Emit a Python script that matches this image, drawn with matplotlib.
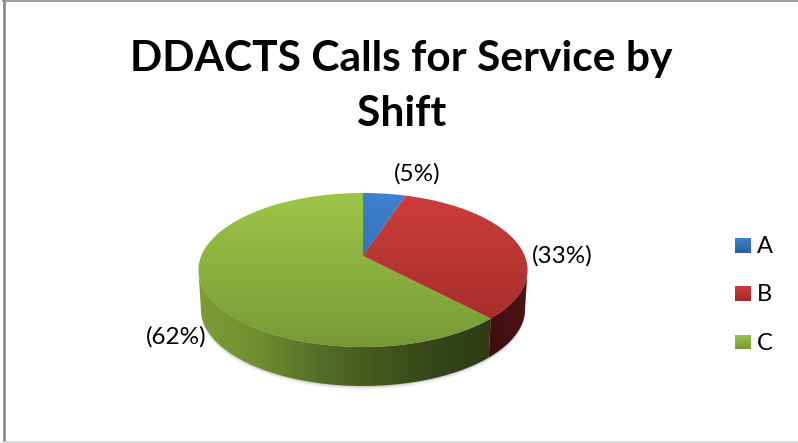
import matplotlib
matplotlib.use("Agg")
import matplotlib.pyplot as plt
from matplotlib.colors import LinearSegmentedColormap
from matplotlib.patches import Polygon, Rectangle
import numpy as np

plt.rcParams["font.family"] = ["Lato", "DejaVu Sans"]

shifts = ["A", "B", "C"]
shares = [5, 33, 62]
top_shades = [("#3f82cf", "#2a5c9a"), ("#cd3d3a", "#9e2b29"), ("#9dc648", "#779a36")]
side_shades = [
    ["#2a5c9a", "#1c3f6b"],
    ["#3a0e0e", "#4f1212"],
    ["#7b9c38", "#70902f", "#55702a", "#45591c", "#35451a", "#2e3b13"],
]
side_spans = [(363, 410), (480, 527), (198, 492)]
label_pos = [(417.5, 174), (562, 256), (176.5, 337)]
legend_y = [245.5, 293.5, 342]

W, H = 798, 443
CX, CY = 363, 256
A, B, K = 161.8, 74.45, 0.1818
DEPTH = 39
XSCALE = 0.985


def project(theta, drop=0.0, xscale=1.0):
    # theta runs clockwise from twelve o'clock; the back of the disc is foreshortened
    u, v = np.sin(theta), np.cos(theta)
    w = 1 + K * v
    return CX + xscale * A * u / w, CY - B * v / w + drop


def rim(t0, t1, **kw):
    t = np.linspace(t0, t1, 160)
    x, y = project(t, **kw)
    return np.column_stack([x, y])


def fill_gradient(ax, path_patch, colors, horizontal=False, extent=None):
    cmap = LinearSegmentedColormap.from_list("shade", colors)
    ramp = np.linspace(0, 1, 256)
    ramp = ramp.reshape(1, -1) if horizontal else ramp.reshape(-1, 1)
    im = ax.imshow(ramp, cmap=cmap, extent=extent, aspect="auto", interpolation="bilinear", zorder=path_patch.get_zorder())
    ax.add_patch(path_patch)
    path_patch.set_visible(False)
    im.set_clip_path(path_patch.get_path(), path_patch.get_transform())


fig = plt.figure(figsize=(W / 100, H / 100), dpi=100, facecolor="white")
ax = fig.add_axes([0, 0, 1, 1])
ax.axis("off")

# soft shadow under the disc
full = rim(0, 2 * np.pi, drop=DEPTH, xscale=XSCALE)
for i, alpha in zip([3.5, 2.5, 1.5, 0.7], [0.05, 0.07, 0.09, 0.12]):
    ax.add_patch(Polygon(full + [0, i], closed=True, fc="#555555", ec="none", alpha=alpha, zorder=1))

edges = 2 * np.pi * np.cumsum([0] + shares) / sum(shares)

# only the front of the rim is visible, between the two silhouette angles
sil_right = np.arccos(-K)
sil_left = 2 * np.pi - sil_right
for k in range(len(shifts)):
    t0, t1 = max(edges[k], sil_right), min(edges[k + 1], sil_left)
    if t1 <= t0:
        continue
    poly = np.vstack([rim(t0, t1), rim(t0, t1, drop=DEPTH, xscale=XSCALE)[::-1]])
    x0, x1 = side_spans[k]
    fill_gradient(ax, Polygon(poly, closed=True, zorder=2), side_shades[k], horizontal=True, extent=(x0, x1, 400, 190))

for k in range(len(shifts)):
    t0, t1 = edges[k], edges[k + 1]
    poly = np.vstack([[CX, CY], rim(t0, t1)])
    fill_gradient(ax, Polygon(poly, closed=True, zorder=3), top_shades[k][::-1], extent=(190, 535, 193, 347))

for share, (lx, ly) in zip(shares, label_pos):
    ax.text(lx, ly, f"({share}%)", ha="center", va="center", fontsize=17.5, color="black", zorder=5)

for name, y, shade in zip(shifts, legend_y, top_shades):
    box = Rectangle((735, y - 7.5), 16, 15, zorder=3)
    fill_gradient(ax, box, shade[::-1], extent=(735, 751, y - 7.5, y + 7.5))
    ax.text(757, y + 1, name, ha="left", va="center", fontsize=17, color="black", zorder=5)

ax.text(401.5, 59, "DDACTS Calls for Service by", ha="center", va="center", fontsize=30.6, fontweight="bold", color="black")
ax.text(401.5, 114, "Shift", ha="center", va="center", fontsize=30.6, fontweight="bold", color="black")

# chart frame
ax.plot([3.5, 3.5], [0, 441], color="#8c8c8c", lw=2, zorder=6)
ax.plot([3, 798], [0.5, 0.5], color="#8c8c8c", lw=1.2, zorder=6)
ax.plot([3, 798], [441.5, 441.5], color="#d8d8d8", lw=1.2, zorder=6)

ax.set_xlim(0, W)
ax.set_ylim(H, 0)
fig.savefig("out.png", dpi=100, facecolor="white")
